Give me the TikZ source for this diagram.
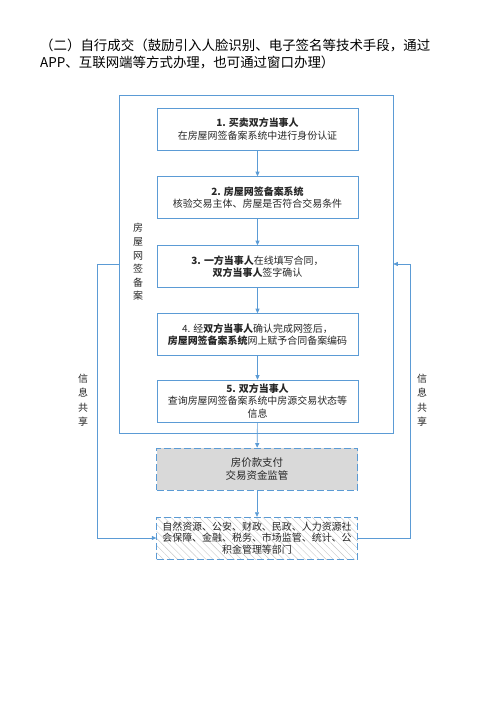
\documentclass[tikz,border=0pt]{standalone}
\usepackage{fontspec}
\setmainfont{Noto Sans CJK SC}
\usetikzlibrary{arrows.meta,patterns.meta}
\definecolor{lineblue}{RGB}{91,155,213}
\definecolor{boxgray}{RGB}{217,217,217}
\begin{document}
\begin{tikzpicture}[
    x=1bp, y=-1bp,
    font=\fontsize{10}{12.5}\selectfont, text=black!85,
    box/.style={draw=lineblue, line width=0.6pt, minimum width=201bp, minimum height=42bp, align=center, inner sep=1pt},
    dbox/.style={box, dash pattern=on 7bp off 3bp},
    link/.style={draw=lineblue, line width=0.6pt, -{Triangle[length=4.5pt,width=4pt]}},
    vlabel/.style={align=center, font=\fontsize{10}{14.5}\selectfont}
]
\useasboundingbox (0,0) rectangle (500,707);

\node[anchor=west, align=left, inner sep=0, text=black, font=\fontsize{13.5}{17}\selectfont] (title) at (40,53.5)
  {（二）自行成交（鼓励引入人脸识别、电子签名等技术手段，通过\\APP、互联网端等方式办理，也可通过窗口办理）};

\node[draw=lineblue, line width=0.6pt, minimum width=274bp, minimum height=338bp] (frame) at (256,264) {};
\node[vlabel, font=\fontsize{10}{13.6}\selectfont] (flabel) at (138,262) {房\\屋\\网\\签\\备\\案};

\node[box] (b1) at (257.5,129) {\textbf{1. 买卖双方当事人}\\在房屋网签备案系统中进行身份认证};
\node[box] (b2) at (257.5,197.5) {\textbf{2. 房屋网签备案系统}\\核验交易主体、房屋是否符合交易条件};
\node[box] (b3) at (257.5,266.5) {\textbf{3. 一方当事人}在线填写合同，\\\textbf{双方当事人}签字确认};
\node[box] (b4) at (257.5,334.5) {4. 经\textbf{双方当事人}确认完成网签后，\\\textbf{房屋网签备案系统}网上赋予合同备案编码};
\node[box, font=\fontsize{10}{12.5}\selectfont] (b5) at (257.5,401) {\textbf{5. 双方当事人}\\查询房屋网签备案系统中房源交易状态等\\信息};

\node[dbox, fill=boxgray, font=\fontsize{10.5}{13}\selectfont] (pay) at (257,469) {房价款支付\\交易资金监管};
\node[dbox, pattern={Lines[angle=-45,distance=5bp,line width=0.4pt]}, pattern color=gray!45,
      font=\fontsize{10}{11.5}\selectfont] (dept) at (257,538)
  {自然资源、公安、财政、民政、人力资源社\\会保障、金融、税务、市场监管、统计、公\\积金管理等部门};

\foreach \a/\b in {b1/b2,b2/b3,b3/b4,b4/b5,b5/pay,pay/dept}{
   \draw[link] (\a) -- (\b);
}

\draw[link] (frame.west) -- ++(-21,0) |- (dept.west);
\draw[link] (dept.east) -- ++(53,0) |- (frame.east);

\node[vlabel] (share1) at (83,400) {信\\息\\共\\享};
\node[vlabel] (share2) at (422,400) {信\\息\\共\\享};

\end{tikzpicture}
\end{document}
